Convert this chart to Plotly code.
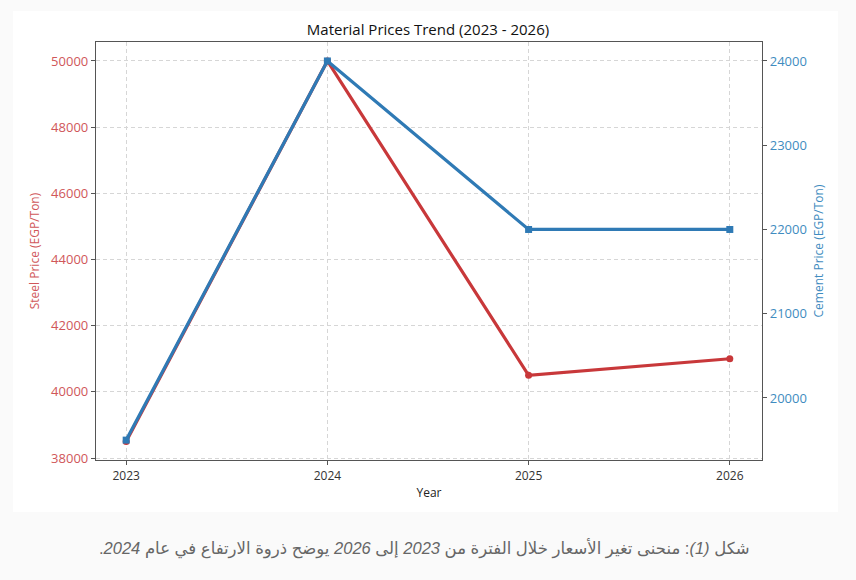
import plotly.graph_objects as go

years = [2023, 2024, 2025, 2026]
steel_prices = [38500, 50000, 40500, 41000]
cement_prices = [19500, 24000, 22000, 22000]
steel_ticks = [38000, 40000, 42000, 44000, 46000, 48000, 50000]
cement_ticks = [20000, 21000, 22000, 23000, 24000]

title_text = "Material Prices Trend (2023 - 2026)"
caption_text = ("\u200Fشكل <i>(1)</i>: منحنى تغير الأسعار خلال الفترة من <i>2023</i> إلى <i>2026</i>"
                " يوضح ذروة الارتفاع في عام <i>2024</i>.\u200F")

RED = "#c8383a"
BLUE = "#2f7ab5"
RED_TXT = "#d0575a"
BLUE_TXT = "#3f8cc0"
GRID = "#d6d6d6"

fig = go.Figure()
fig.add_trace(go.Scatter(
    x=years, y=steel_prices, mode="lines+markers", name="Steel",
    line=dict(color=RED, width=3.2), marker=dict(symbol="circle", size=7, color=RED),
    yaxis="y"))
fig.add_trace(go.Scatter(
    x=years, y=cement_prices, mode="lines+markers", name="Cement",
    line=dict(color=BLUE, width=3.2), marker=dict(symbol="square", size=7, color=BLUE),
    yaxis="y2"))

font_family = "Open Sans, Roboto, DejaVu Sans, sans-serif"

fig.update_layout(
    width=856, height=580,
    margin=dict(l=96, r=94, t=42, b=120),
    paper_bgcolor="#fafafa",
    plot_bgcolor="white",
    showlegend=False,
    font=dict(family=font_family, size=12, color="#333"),
    title=dict(text=title_text, x=0.5, xanchor="center", y=1 - 30 / 580, yanchor="middle",
               font=dict(size=15, color="#111")),
    xaxis=dict(
        range=[2022.85, 2026.16], tickvals=years, ticktext=[str(y) for y in years],
        showgrid=True, gridcolor=GRID, griddash="4px,3px", gridwidth=1,
        showline=True, linecolor="#555", linewidth=1.3, mirror=True,
        ticks="outside", ticklen=4, tickcolor="#555",
        tickfont=dict(size=12, color="#333"),
        title=dict(text="Year", font=dict(size=12, color="#222"), standoff=6),
        zeroline=False),
    yaxis=dict(
        range=[37940, 50574], tickvals=steel_ticks, ticktext=[str(v) for v in steel_ticks],
        showgrid=True, gridcolor=GRID, griddash="4px,3px", gridwidth=1,
        showline=True, linecolor="#555", linewidth=1.3,
        ticks="outside", ticklen=4, tickcolor="#555",
        tickfont=dict(size=13, color=RED_TXT),
        title=dict(text="Steel Price (EGP/Ton)", font=dict(size=12, color=RED_TXT), standoff=8),
        zeroline=False),
    yaxis2=dict(
        range=[19264, 24225], tickvals=cement_ticks, ticktext=[str(v) for v in cement_ticks],
        overlaying="y", side="right", showgrid=False,
        showline=True, linecolor="#555", linewidth=1.3,
        ticks="outside", ticklen=4, tickcolor="#555",
        tickfont=dict(size=13, color=BLUE_TXT),
        title=dict(text="Cement Price (EGP/Ton)", font=dict(size=12, color=BLUE_TXT), standoff=8),
        zeroline=False),
)

# white chart panel
fig.add_shape(type="rect", xref="paper", yref="paper",
              x0=(13 - 96) / 666, x1=(838 - 96) / 666,
              y0=(460 - 512) / 418, y1=(460 - 11) / 418,
              fillcolor="white", line=dict(width=0), layer="below")

fig.add_annotation(
    text=caption_text, xref="paper", yref="paper",
    x=(752 - 96) / 666, y=(460 - 548) / 418, xanchor="right", yanchor="middle",
    showarrow=False, font=dict(size=16.5, color="#666", family="Liberation Sans, DejaVu Sans, sans-serif"))

fig.write_html("out.html")
